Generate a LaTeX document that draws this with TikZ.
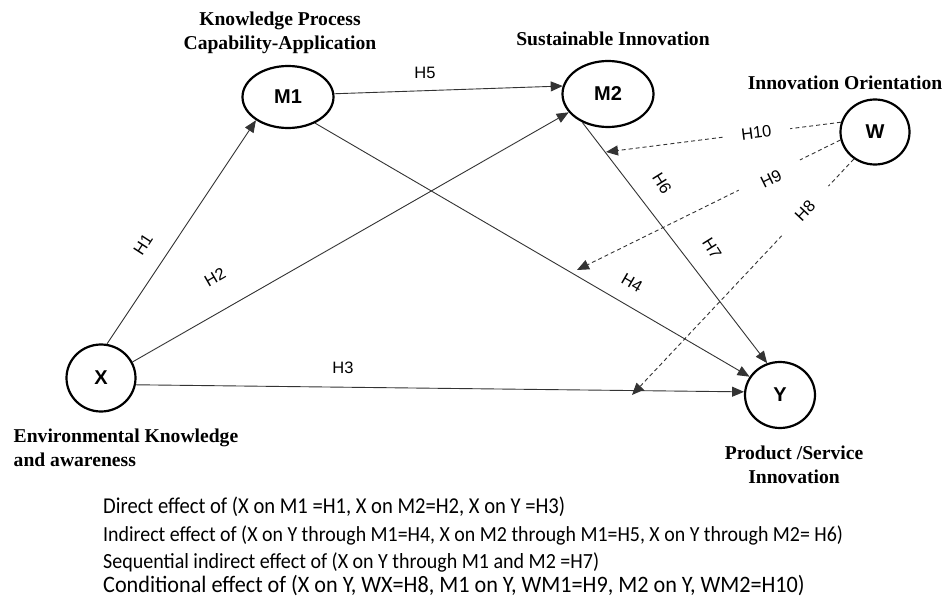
\documentclass[tikz,border=0pt]{standalone}
\usepackage{fontspec}
\setmainfont{Liberation Serif}
\newfontfamily\arialf{Liberation Sans}
\newfontfamily\calf{Carlito}
\usetikzlibrary{arrows.meta,shapes.geometric}
\begin{document}
\begin{tikzpicture}[x=1pt,y=-1pt,
  var/.style={ellipse,draw,line width=2.2pt,inner sep=0pt,font=\arialf\bfseries\fontsize{20}{24}\selectfont},
  arr/.style={draw=black!80,line width=0.9pt,-{Triangle[length=12pt,width=10pt]}},
  darr/.style={arr,dash pattern=on 4pt off 3pt},
  hlab/.style={font=\arialf\fontsize{16.5}{20}\selectfont,inner sep=1pt},
  dlab/.style={hlab,fill=white,sloped,minimum width=68pt,inner ysep=1pt},
  head/.style={font=\bfseries\fontsize{19.6}{24}\selectfont,align=center,inner sep=0pt},
  btext/.style={anchor=west,inner sep=0pt}]
\useasboundingbox[fill=white] (0,0) rectangle (945,599);
% variables
\node[var,minimum width=91pt,minimum height=62pt] (M1) at (288,97) {M1};
\node[var,minimum width=91pt,minimum height=66pt] (M2) at (608,94) {M2};
\node[var,minimum width=69pt,minimum height=65pt] (W) at (875,132) {W};
\node[var,minimum width=69pt,minimum height=67pt] (X) at (101,378) {X};
\node[var,minimum width=70pt,minimum height=66pt] (Y) at (780,395) {Y};
% headings
\node[head] (hM1) at (280,33) {Knowledge Process\\Capability-Application};
\node[head] (hM2) at (613,39) {Sustainable Innovation};
\node[head] (hW) at (845,83) {Innovation Orientation};
\node[head,align=left] (hX) at (126,448) {Environmental Knowledge\\and awareness};
\node[head] (hY) at (794,465) {Product /Service\\Innovation};
% direct paths
\draw[arr] (X.80) -- (M1.216);
\draw[arr] (X.27) -- (M2.205);
\draw[arr] (X.-11) -- (Y.175);
\draw[arr] (M1.-44) -- (Y.149);
\draw[arr] (M1.4) -- (M2.170);
\draw[arr] (M2.228) -- (Y.112);
% path labels
\node[hlab,rotate=57] (lH1) at (143,245) {H1};
\node[hlab,rotate=30] (lH2) at (215,277) {H2};
\node[hlab] (lH3) at (343,368) {H3};
\node[hlab,rotate=-30] (lH4) at (632,283) {H4};
\node[hlab] (lH5) at (425,73) {H5};
\node[hlab,rotate=-58] (lH6) at (662,183) {H6};
\node[hlab,rotate=-58] (lH7) at (712,248) {H7};
% moderation
\coordinate (t10) at (606,152);
\coordinate (t9) at (577,270);
\coordinate (t8) at (632,395);
\draw[darr] (W.164) -- node[dlab,pos=0.36] (lH10) {H10} (t10);
\draw[darr] (W.193) -- node[dlab,pos=0.27,yshift=-4pt] (lH9) {H9} (t9);
\draw[darr] (W.232) -- node[dlab,pos=0.22] (lH8) {H8} (t8);
% notes
\node[btext,font=\calf\fontsize{20.6}{24}\selectfont] (n1) at (103,507) {\scalebox{1}[1.1]{Direct effect of (X on M1 =H1, X on M2=H2, X on Y =H3)}};
\node[btext,font=\calf\fontsize{19.9}{22}\selectfont] (n2) at (103,535) {\scalebox{1}[1.08]{Indirect effect of (X on Y through M1=H4, X on M2 through M1=H5, X on Y through M2= H6)}};
\node[btext,font=\calf\fontsize{20}{22}\selectfont] (n3) at (103,562) {\scalebox{1}[1.08]{Sequential indirect effect of (X on Y through M1 and M2 =H7)}};
\node[btext,font=\calf\fontsize{22.2}{24}\selectfont] (n4) at (103,586) {\scalebox{1}[1.06]{Conditional effect of (X on Y, WX=H8, M1 on Y, WM1=H9, M2 on Y, WM2=H10)}};
\end{tikzpicture}
\end{document}
